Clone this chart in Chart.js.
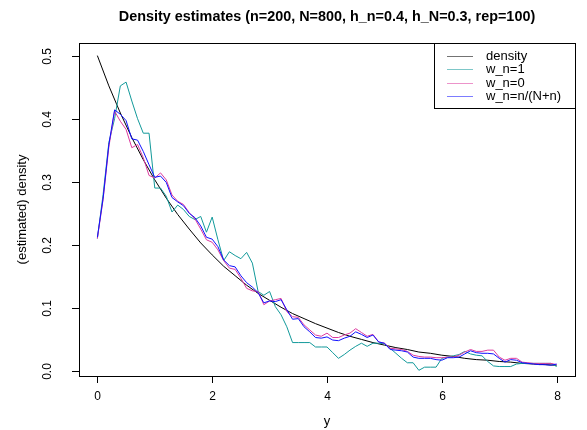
<!DOCTYPE html>
<html>
<head>
<meta charset="utf-8">
<script src="https://cdn.jsdelivr.net/npm/chart.js@4/dist/chart.umd.min.js"></script>
<style>
	html, body { margin: 0; padding: 0; background: #fff; }
	#wrap { width: 587px; height: 430px; position: relative; }
	canvas { display: block; }
</style>
</head>
<body>
<div id="wrap"><canvas id="chart" width="587" height="430"></canvas></div>
<script>
const TITLE = 'Density estimates (n=200, N=800, h_n=0.4, h_N=0.3, rep=100)';
const X_TITLE = 'y';
const Y_TITLE = '(estimated) density';
const X_TICKS = [0, 2, 4, 6, 8];
const Y_TICKS = [0, 0.1, 0.2, 0.3, 0.4, 0.5];
const Y_TICK_LABELS = ['0.0', '0.1', '0.2', '0.3', '0.4', '0.5'];
const LEGEND_LABELS = ['density', 'w_n=1', 'w_n=0', 'w_n=n/(N+n)'];

// evaluation grid of the estimates
const GRID_X = [0, 0.1, 0.2, 0.3, 0.4, 0.5, 0.6, 0.7, 0.8, 0.9, 1, 1.1, 1.2, 1.3, 1.4, 1.5, 1.6, 1.7, 1.8, 1.9,
	2, 2.1, 2.2, 2.3, 2.4, 2.5, 2.6, 2.7, 2.8, 2.9, 3, 3.1, 3.2, 3.3, 3.4, 3.5, 3.6, 3.7, 3.8, 3.9,
	4, 4.1, 4.2, 4.3, 4.4, 4.5, 4.6, 4.7, 4.8, 4.9, 5, 5.1, 5.2, 5.3, 5.4, 5.5, 5.6, 5.7, 5.8, 5.9,
	6, 6.1, 6.2, 6.3, 6.4, 6.5, 6.6, 6.7, 6.8, 6.9, 7, 7.1, 7.2, 7.3, 7.4, 7.5, 7.6, 7.7, 7.8, 7.9, 8];

// w_n = 1
const EST_W1 = [0.210, 0.280, 0.362, 0.400, 0.452, 0.458, 0.428, 0.400, 0.377, 0.377,
	0.290, 0.290, 0.277, 0.252, 0.263, 0.256, 0.245, 0.240, 0.245, 0.220,
	0.244, 0.208, 0.175, 0.189, 0.183, 0.178, 0.188, 0.171, 0.126, 0.120,
	0.126, 0.102, 0.089, 0.070, 0.045, 0.045, 0.045, 0.045, 0.038, 0.038,
	0.038, 0.029, 0.020, 0.026, 0.033, 0.039, 0.044, 0.039, 0.044, 0.044,
	0.043, 0.036, 0.028, 0.020, 0.013, 0.013, 0.001, 0.006, 0.006, 0.006,
	0.020, 0.022, 0.024, 0.026, 0.031, 0.027, 0.025, 0.024, 0.015, 0.008,
	0.007, 0.007, 0.007, 0.011, 0.012, 0.012, 0.012, 0.012, 0.012, 0.012, 0.007];

// w_n = 0
const EST_W0 = [0.210, 0.272, 0.355, 0.412, 0.396, 0.383, 0.354, 0.359, 0.338, 0.310,
	0.306, 0.314, 0.303, 0.279, 0.269, 0.264, 0.251, 0.241, 0.225, 0.208,
	0.204, 0.192, 0.175, 0.163, 0.161, 0.147, 0.131, 0.127, 0.126, 0.105,
	0.111, 0.113, 0.115, 0.094, 0.086, 0.085, 0.073, 0.065, 0.057, 0.055,
	0.060, 0.053, 0.053, 0.057, 0.060, 0.067, 0.061, 0.055, 0.058, 0.046,
	0.044, 0.036, 0.035, 0.034, 0.031, 0.025, 0.023, 0.022, 0.022, 0.021,
	0.021, 0.022, 0.022, 0.025, 0.030, 0.034, 0.031, 0.031, 0.033, 0.033,
	0.022, 0.017, 0.020, 0.020, 0.014, 0.013, 0.012, 0.012, 0.012, 0.012, 0.010];

// w_n = n/(N+n)
const EST_WMIX = [0.212, 0.274, 0.359, 0.414, 0.407, 0.397, 0.368, 0.366, 0.348, 0.327,
	0.307, 0.309, 0.299, 0.275, 0.268, 0.262, 0.250, 0.243, 0.230, 0.212,
	0.209, 0.197, 0.176, 0.167, 0.165, 0.151, 0.140, 0.133, 0.124, 0.108,
	0.111, 0.110, 0.113, 0.097, 0.082, 0.083, 0.070, 0.062, 0.053, 0.052,
	0.054, 0.049, 0.048, 0.052, 0.055, 0.062, 0.058, 0.053, 0.057, 0.046,
	0.044, 0.034, 0.033, 0.032, 0.030, 0.022, 0.020, 0.020, 0.020, 0.018,
	0.017, 0.021, 0.021, 0.022, 0.027, 0.032, 0.029, 0.028, 0.028, 0.027,
	0.020, 0.014, 0.018, 0.017, 0.013, 0.012, 0.011, 0.010, 0.010, 0.009, 0.011];

// true density
const DENS_X = [0, 0.2, 0.4, 0.6, 0.8, 1, 1.2, 1.4, 1.6, 1.8, 2, 2.2, 2.4, 2.6, 2.8, 3, 3.2, 3.4, 3.6, 3.8,
	4, 4.2, 4.4, 4.6, 4.8, 5, 5.2, 5.4, 5.6, 5.8, 6, 6.2, 6.4, 6.6, 6.8, 7, 7.2, 7.4, 7.6, 7.8, 8];
const DENS_Y = [0.500, 0.452, 0.409, 0.370, 0.335, 0.303, 0.274, 0.248, 0.225, 0.203,
	0.184, 0.166, 0.151, 0.136, 0.123, 0.112, 0.101, 0.091, 0.083, 0.075,
	0.068, 0.061, 0.055, 0.050, 0.045, 0.041, 0.037, 0.034, 0.030, 0.028,
	0.025, 0.023, 0.020, 0.018, 0.017, 0.015, 0.014, 0.012, 0.011, 0.010, 0.009];

const COLORS = ['#000000', '#12999a', '#dd3a9e', '#1010ff'];
const FONT = '"Liberation Sans", Arial, Helvetica, sans-serif';

const pts = (xs, ys) => xs.map((x, i) => ({ x: x, y: ys[i] }));

// base-R style frame, axes, titles and legend
const rFrame = {
	id: 'rFrame',
	afterDraw(chart) {
		const { ctx, chartArea: a, scales: { x, y } } = chart;
		ctx.save();
		ctx.strokeStyle = '#000';
		ctx.fillStyle = '#000';
		ctx.lineWidth = 1;
		ctx.strokeRect(a.left + 0.5, a.top + 0.5, a.right - a.left, a.bottom - a.top);

		ctx.font = '12px ' + FONT;
		ctx.textAlign = 'center';
		ctx.textBaseline = 'middle';
		X_TICKS.forEach(v => {
			const px = Math.round(x.getPixelForValue(v)) + 0.5;
			ctx.beginPath();
			ctx.moveTo(px, a.bottom);
			ctx.lineTo(px, a.bottom + 7);
			ctx.stroke();
			ctx.fillText(String(v), px, a.bottom + 21);
		});
		Y_TICKS.forEach((v, i) => {
			const py = Math.round(y.getPixelForValue(v)) + 0.5;
			ctx.beginPath();
			ctx.moveTo(a.left - 7, py);
			ctx.lineTo(a.left, py);
			ctx.stroke();
			ctx.save();
			ctx.translate(a.left - 31, py);
			ctx.rotate(-Math.PI / 2);
			ctx.fillText(Y_TICK_LABELS[i], 0, 0);
			ctx.restore();
		});

		ctx.font = '13px ' + FONT;
		ctx.fillText(X_TITLE, (a.left + a.right) / 2, 421);
		ctx.save();
		ctx.translate(22, (a.top + a.bottom) / 2);
		ctx.rotate(-Math.PI / 2);
		ctx.fillText(Y_TITLE, 0, 0);
		ctx.restore();

		ctx.font = 'bold 14.4px ' + FONT;
		ctx.fillText(TITLE, (a.left + a.right) / 2, 17);

		// legend box in the top right corner
		const lx = 434, ly = a.top, lw = a.right - lx, lh = 65;
		ctx.fillStyle = '#fff';
		ctx.fillRect(lx, ly, lw, lh);
		ctx.strokeStyle = '#000';
		ctx.strokeRect(lx + 0.5, ly + 0.5, lw, lh);
		ctx.font = '13px ' + FONT;
		ctx.textAlign = 'left';
		LEGEND_LABELS.forEach((t, i) => {
			const ry = Math.round(ly + 13 + i * 13.3) + 0.5;
			ctx.globalAlpha = 0.55;
			ctx.strokeStyle = COLORS[i];
			ctx.beginPath();
			ctx.moveTo(447, ry);
			ctx.lineTo(473, ry);
			ctx.stroke();
			ctx.globalAlpha = 1;
			ctx.fillStyle = '#000';
			ctx.fillText(t, 486, ry);
		});
		ctx.restore();
	}
};

const lineSet = (label, data, color, order) => ({
	label,
	data,
	borderColor: color,
	backgroundColor: color,
	borderWidth: 1,
	pointRadius: 0,
	tension: 0,
	fill: false,
	order
});

new Chart(document.getElementById('chart').getContext('2d'), {
	type: 'line',
	data: {
		datasets: [
			lineSet(LEGEND_LABELS[0], pts(DENS_X, DENS_Y), COLORS[0], 3),
			lineSet(LEGEND_LABELS[1], pts(GRID_X, EST_W1), COLORS[1], 2),
			lineSet(LEGEND_LABELS[2], pts(GRID_X, EST_W0), COLORS[2], 1),
			lineSet(LEGEND_LABELS[3], pts(GRID_X, EST_WMIX), COLORS[3], 0)
		]
	},
	options: {
		responsive: false,
		animation: false,
		layout: { padding: { left: 79, right: 12, top: 43, bottom: 54 } },
		scales: {
			x: { type: 'linear', min: -0.32, max: 8.32, display: false },
			y: { type: 'linear', min: -0.008, max: 0.52, display: false }
		},
		plugins: {
			legend: { display: false },
			tooltip: { enabled: false }
		}
	},
	plugins: [rFrame]
});
</script>
</body>
</html>
